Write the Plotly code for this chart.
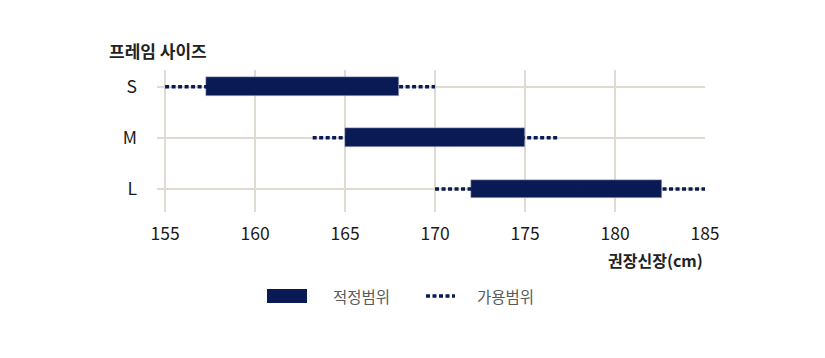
import plotly.graph_objects as go

sizes = ["S", "M", "L"]
opt_min = [157.3, 165.0, 172.0]
opt_max = [168.0, 175.0, 182.6]
use_min = [155.0, 163.2, 170.0]
use_max = [170.0, 176.9, 185.0]
x_ticks = [155, 160, 165, 170, 175, 180, 185]
legend_labels = ["적정범위", "가용범위"]
title_text = "프레임 사이즈"
xaxis_title = "권장신장(cm)"

NAVY = "#0a1a55"
GRID = "#dedbd2"
FONT = "Noto Sans CJK KR"

fig = go.Figure()
ypos = list(range(len(sizes)))

for i, s in enumerate(sizes):
    fig.add_trace(go.Scatter(
        x=[use_min[i], use_max[i]], y=[ypos[i], ypos[i]], mode="lines",
        line=dict(color=NAVY, width=3.5, dash="4px,2.5px"),
        showlegend=False, hoverinfo="skip"))

fig.add_trace(go.Bar(
    y=ypos, x=[b - a for a, b in zip(opt_min, opt_max)], base=opt_min,
    orientation="h", width=0.37, marker=dict(color=NAVY, line=dict(color="#c9cde0", width=0.5)),
    showlegend=False))

fig.update_layout(
    width=825, height=358,
    margin=dict(l=157, r=120, t=70, b=146),
    plot_bgcolor="white", paper_bgcolor="white",
    font=dict(family=FONT, color="#222222", size=17),
    xaxis=dict(range=[154.55, 185.0], tickvals=x_ticks, ticktext=[str(t) for t in x_ticks],
               showgrid=True, gridcolor=GRID, gridwidth=2, zeroline=False,
               showline=False, ticks="", ticklabelstandoff=9,
               tickfont=dict(size=17.5, color="#1a1a1a")),
    yaxis=dict(range=[2.45, -0.326], tickvals=ypos, ticktext=sizes,
               showgrid=True, gridcolor=GRID, gridwidth=2, zeroline=False,
               showline=False, ticks="", ticklabelstandoff=19,
               tickfont=dict(size=17.5, color="#1a1a1a")),
    bargap=0,
)

# x-axis title and chart title
fig.add_annotation(x=1.0, y=(212 - 260) / 142, xref="paper", yref="paper",
                   text="<b>" + xaxis_title + "</b>", showarrow=False,
                   xanchor="right", yanchor="middle", font=dict(size=16, color="#222222"))
fig.add_annotation(x=(107 - 157) / 548, y=(212 - 51) / 142, xref="paper", yref="paper",
                   text="<b>" + title_text + "</b>", showarrow=False,
                   xanchor="left", yanchor="middle", font=dict(size=17, color="#222222"))

# custom legend
ly = (212 - 296) / 142
fig.add_shape(type="rect", xref="paper", yref="paper",
              x0=(267 - 157) / 548, x1=(307 - 157) / 548,
              y0=(212 - 303) / 142, y1=(212 - 289) / 142,
              fillcolor=NAVY, line=dict(width=0))
fig.add_annotation(x=(331 - 157) / 548, y=ly, xref="paper", yref="paper",
                   text=legend_labels[0], showarrow=False, xanchor="left", yanchor="middle",
                   font=dict(size=15.5, color="#5a5a5a"))
fig.add_shape(type="line", xref="paper", yref="paper",
              x0=(426 - 157) / 548, x1=(455 - 157) / 548, y0=ly, y1=ly,
              line=dict(color=NAVY, width=3.5, dash="4px,2.5px"))
fig.add_annotation(x=(475 - 157) / 548, y=ly, xref="paper", yref="paper",
                   text=legend_labels[1], showarrow=False, xanchor="left", yanchor="middle",
                   font=dict(size=15.5, color="#5a5a5a"))

fig.write_html("out.html")
